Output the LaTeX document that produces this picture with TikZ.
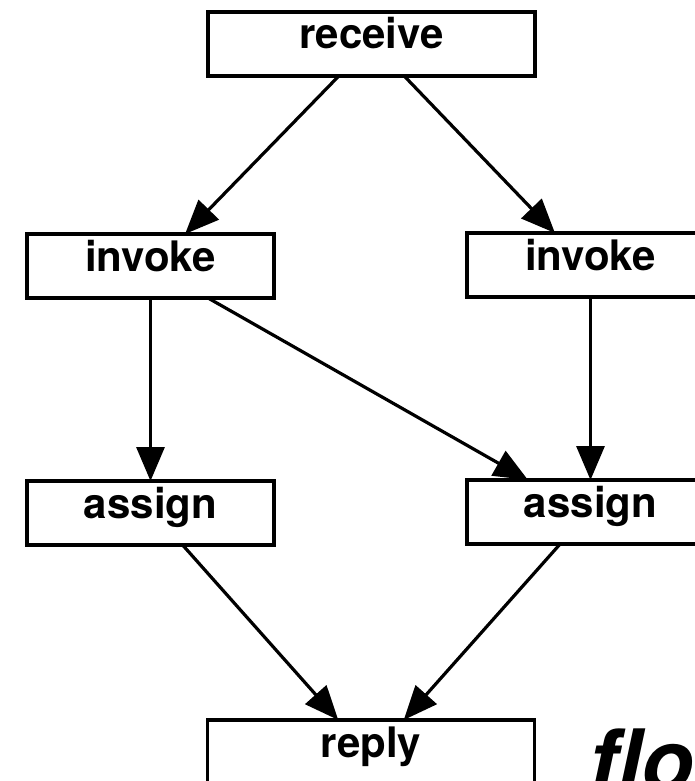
\documentclass[tikz,border=0pt]{standalone}
\usepackage{fontspec}
\setmainfont{TeX Gyre Heros}
\usetikzlibrary{arrows.meta,calc}
\begin{document}
\begin{tikzpicture}[x=1pt,y=-1pt,
  box/.style={draw,line width=3.5pt,outer sep=0pt,inner xsep=0pt,inner ysep=0pt,
    text height=37pt,text depth=27pt,anchor=north,
    font=\fontsize{42}{50}\selectfont\bfseries},
  smallbox/.style={box,minimum width=247pt},
  widebox/.style={box,minimum width=327pt},
  link/.style={line width=3.2pt,-{Triangle[length=34pt,width=28pt]}}]
\useasboundingbox (0,0) rectangle (695,781);
\clip (0,0) rectangle (695,781);

% activities
\node[widebox]  (recv)  at (371.5,12)  {receive};
\node[smallbox] (inv1)  at (150.5,234) {invoke};
\node[smallbox] (inv2)  at (590.5,233) {invoke};
\node[smallbox] (asg1)  at (150.5,481) {assign};
\node[smallbox] (asg2)  at (590.5,480) {assign};
\node[widebox]  (reply) at (371,720)   {reply};

% caption
\node[anchor=base west,inner sep=0pt,font=\fontsize{86}{90}\selectfont\bfseries\itshape]
  (cap) at (589,791) {flo};

% control links
\draw[link] ($(recv.south west)!0.4!(recv.south east)$) -- ($(inv1.north west)!0.64!(inv1.north east)$);
\draw[link] ($(recv.south west)!0.6!(recv.south east)$) -- ($(inv2.north west)!0.356!(inv2.north east)$);
\draw[link] (inv1.south) -- (asg1.north);
\draw[link] ($(inv1.south west)!0.733!(inv1.south east)$) -- ($(asg2.north west)!0.247!(asg2.north east)$);
\draw[link] (inv2.south) -- (asg2.north);
\draw[link] ($(asg1.south west)!0.63!(asg1.south east)$) -- ($(reply.north west)!0.4!(reply.north east)$);
\draw[link] ($(asg2.south west)!0.377!(asg2.south east)$) -- ($(reply.north west)!0.6!(reply.north east)$);
\end{tikzpicture}
\end{document}
